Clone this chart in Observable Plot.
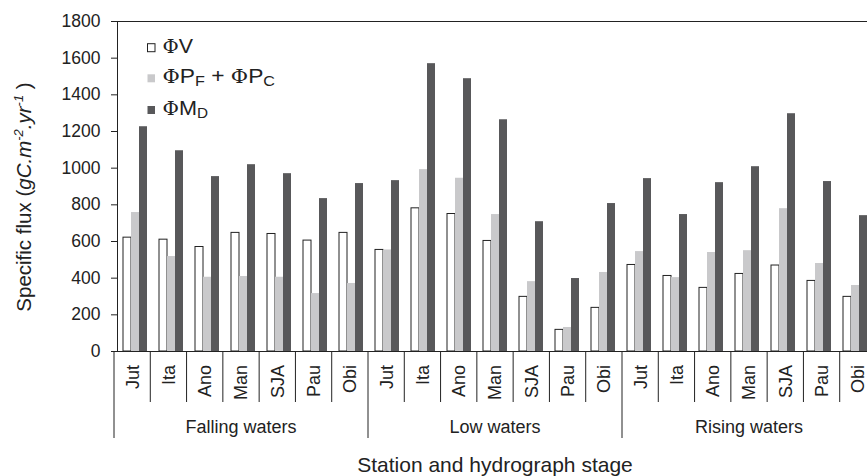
<!DOCTYPE html>
<html><head><meta charset="utf-8">
<script src="https://cdn.jsdelivr.net/npm/d3@7"></script>
<script src="https://cdn.jsdelivr.net/npm/@observablehq/plot@0.6"></script>
<style>
html,body{margin:0;padding:0;overflow:hidden;background:#fff}
svg{max-width:none !important}
</style>
</head><body><div id="chart"></div>
<script>
// ---- data ----
const stages = ["Falling waters", "Low waters", "Rising waters"];
const stations = ["Jut", "Ita", "Ano", "Man", "SJA", "Pau", "Obi"];
const seriesKeys = ["V", "P", "M"];
const yTicks = [0, 200, 400, 600, 800, 1000, 1200, 1400, 1600, 1800];
// values in order: Falling (7 stations), Low (7), Rising (7)
const phiV = [621, 610, 570, 647, 641, 605, 647,  554, 781, 750, 603, 298, 118, 238,  472, 412, 347, 423, 469, 385, 298];
const phiP = [758, 518, 405, 409, 405, 316, 371,  554, 992, 945, 747, 381, 131, 431,  545, 403, 540, 550, 779, 480, 360];
const phiM = [1226, 1095, 954, 1019, 970, 834, 916,  932, 1570, 1488, 1264, 708, 398, 807,  943, 747, 921, 1008, 1297, 927, 741];
const xTitle = "Station and hydrograph stage";

const keys = stages.flatMap(s => stations.map(t => s + "|" + t));
const rows = [];
keys.forEach((k, i) => {
  rows.push({key: k, s: "V", v: phiV[i]});
  rows.push({key: k, s: "P", v: phiP[i]});
  rows.push({key: k, s: "M", v: phiM[i]});
});

const FONT = "'Liberation Sans', Arial, Helvetica, sans-serif";
const INK = "#222";

const plot = Plot.plot({
  width: 876, height: 476,
  marginLeft: 114, marginRight: 0, marginTop: 21, marginBottom: 125,
  style: {fontFamily: FONT, fontSize: "17.5px", color: INK, background: "#fff", maxWidth: "none", overflow: "visible"},
  facet: {data: rows, x: "key"},
  fx: {domain: keys, paddingInner: 0, paddingOuter: 0, axis: null, label: null},
  x: {domain: seriesKeys, paddingInner: 0, paddingOuter: 0.73, axis: null, label: null},
  y: {domain: [0, 1800], ticks: yTicks, tickSize: 6, tickPadding: 11, label: null, tickFormat: d => String(d), line: true},
  color: {domain: seriesKeys, range: ["#ffffff", "#c9c9cb", "#58585a"]},
  marks: [
    Plot.barY(rows, {filter: d => d.s === "V", x: "s", y: "v", fill: "#ffffff", stroke: INK, strokeWidth: 1}),
    Plot.barY(rows, {filter: d => d.s !== "V", x: "s", y: "v", fill: "s"}),
    Plot.ruleY([0, 1800], {stroke: INK, strokeWidth: 1})
  ]
});
document.getElementById("chart").appendChild(plot);

// ---- axis decorations built from Plot's own scales ----
const fxS = plot.scale("fx");
const yS = plot.scale("y");
const fx = d3.scaleBand(fxS.domain, fxS.range).paddingInner(0).paddingOuter(0);
const y = d3.scaleLinear(yS.domain, yS.range);
const svg = d3.select(plot);
const base = y(0);
const g = svg.append("g").attr("fill", INK).attr("font-family", FONT);

keys.forEach((k, i) => {
  const x0 = fx(k);
  const isGroupStart = i % stations.length === 0;
  g.append("line").attr("x1", x0).attr("x2", x0).attr("y1", base).attr("y2", isGroupStart ? base + 87 : base + 51)
    .attr("stroke", INK).attr("stroke-width", 1);
  const cx = x0 + fx.bandwidth() / 2;
  g.append("text").attr("transform", `translate(${cx},${base + 14}) rotate(-90)`)
    .attr("text-anchor", "end").attr("dy", "0.36em").attr("font-size", 18)
    .text(k.split("|")[1]);
});
const lastKey = keys[keys.length - 1];
const endX = fx(lastKey) + fx.bandwidth();
g.append("line").attr("x1", endX).attr("x2", endX).attr("y1", base).attr("y2", base + 87).attr("stroke", INK);
stages.forEach((s, si) => {
  const a = fx(keys[si * stations.length]);
  const b = fx(keys[si * stations.length + stations.length - 1]) + fx.bandwidth();
  g.append("text").attr("x", (a + b) / 2).attr("y", base + 82).attr("text-anchor", "middle")
    .attr("font-size", 18).text(s);
});
const r = fx.range();
g.append("text").attr("x", (r[0] + r[1]) / 2).attr("y", base + 121).attr("text-anchor", "middle")
  .attr("font-size", 21).text(xTitle);

// y title
const yMid = (y(0) + y(1800)) / 2 + 11;
const yt = g.append("text").attr("transform", `translate(31,${yMid}) rotate(-90)`)
  .attr("text-anchor", "middle").attr("font-size", 20.5);
yt.append("tspan").text("Specific flux (");
yt.append("tspan").attr("font-style", "italic").text("gC.m");
yt.append("tspan").attr("font-style", "italic").attr("font-size", 13).attr("dy", -8).text("-2");
yt.append("tspan").attr("font-style", "italic").attr("dy", 8).text(".yr");
yt.append("tspan").attr("font-style", "italic").attr("font-size", 13).attr("dy", -8).text("-1");
yt.append("tspan").attr("dy", 8).text(" )");

// legend
const legendRows = [
  {key: "V", parts: [["Φ", "phi"], ["V", ""]]},
  {key: "P", parts: [["Φ", "phi"], ["P", ""], ["F", "sub"], [" + ", ""], ["Φ", "phi"], ["P", ""], ["C", "sub"]]},
  {key: "M", parts: [["Φ", "phi"], ["M", ""], ["D", "sub"]]}
];
const fills = {V: "#ffffff", P: "#c9c9cb", M: "#58585a"};
const baselines = [52.7, 83.3, 115];
const widths = [30.5, 112.5, 45.5];
const lg = g.append("g").attr("text-anchor", "start");
legendRows.forEach((row, i) => {
  const bl = baselines[i];
  lg.append("rect").attr("x", 147.5).attr("y", bl - 9).attr("width", 7.5).attr("height", 8)
    .attr("fill", fills[row.key]).attr("stroke", row.key === "V" ? INK : "none");
  const t = lg.append("text").attr("x", 162.5).attr("y", bl).attr("font-size", 20.5).attr("text-anchor", "start")
    .attr("textLength", widths[i]).attr("lengthAdjust", "spacingAndGlyphs");
  let shifted = false;
  row.parts.forEach(([txt, kind]) => {
    const ts = t.append("tspan").text(txt);
    if (kind === "phi") ts.attr("font-family", "'DejaVu Serif', 'Liberation Serif', serif").attr("font-size", 19);
    if (kind === "sub") { ts.attr("font-size", 14.5).attr("dy", 2.5); shifted = true; }
    else if (shifted) { ts.attr("dy", -2.5); shifted = false; }
  });
});
</script>
</body></html>
